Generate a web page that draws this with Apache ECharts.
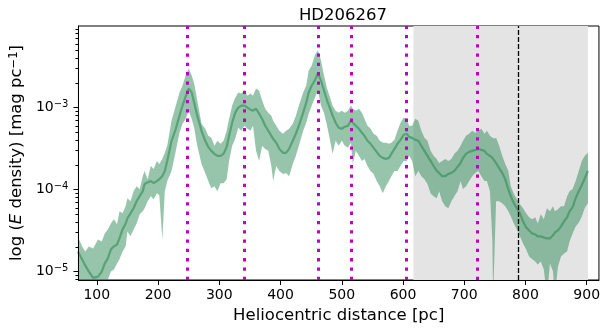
<!DOCTYPE html>
<html>
<head>
<meta charset="utf-8">
<script src="https://cdn.jsdelivr.net/npm/echarts@6/dist/echarts.min.js"></script>
<style>html,body{margin:0;padding:0;background:#fff}#c{width:603px;height:332px}</style>
</head>
<body>
<div id="c"></div>
<script>
const titleText = 'HD206267';
const xAxisTitle = 'Heliocentric distance [pc]';
const distances = [
  69, 76, 81, 87, 94, 102, 108, 113, 118, 123,
  128, 133, 137, 142, 147, 150, 155, 160, 165, 170,
  175, 178, 183, 188, 193, 198, 202, 207, 211, 215,
  222, 229, 235, 240, 245, 250, 255, 259, 264, 271,
  277, 282, 287, 292, 297, 302, 307, 312, 316, 321,
  326, 331, 336, 341, 346, 351, 355, 360, 365, 370,
  375, 380, 385, 388, 393, 398, 404, 409, 414, 420,
  425, 430, 437, 442, 446, 451, 456, 461, 466, 471,
  476, 481, 485, 490, 495, 500, 505, 510, 515, 518,
  523, 528, 533, 537, 542, 547, 552, 557, 562, 567,
  572, 577, 581, 586, 591, 596, 601, 606, 610, 615,
  620, 625, 630, 635, 640, 645, 650, 655, 659, 664,
  669, 674, 679, 684, 689, 694, 698, 703, 708, 713,
  718, 723, 728, 733, 737, 742, 746, 747, 749, 752,
  757, 762, 767, 772, 776, 781, 786, 791, 796, 801,
  806, 811, 816, 820, 825, 830, 835, 840, 845, 848,
  853, 858, 863, 868, 872, 877, 882, 887, 892, 897,
  902
];
const upperVals = [
  2.69e-5, 2.03e-5, 1.76e-5, 2.03e-5, 1.92e-5, 2.47e-5, 2.33e-5, 2.92e-5, 3.27e-5, 3.87e-5,
  4.35e-5, 3.77e-5, 5.44e-5, 5.14e-5, 6.27e-5, 7.86e-5, 7.22e-5, 9.58e-5, 1.10e-4, 1.01e-4,
  1.46e-4, 1.69e-4, 1.34e-4, 1.94e-4, 1.78e-4, 2.24e-4, 2.06e-4, 2.37e-4, 2.81e-4, 3.42e-4,
  6.93e-4, 1.06e-3, 1.53e-3, 1.86e-3, 2.47e-3, 3.0e-3, 2.47e-3, 1.97e-3, 1.22e-3, 6.37e-4,
  5.52e-4, 4.53e-4, 4.28e-4, 3.42e-4, 3.94e-4, 3.62e-4, 3.94e-4, 5.22e-4, 7.34e-4, 1.06e-3,
  1.32e-3, 1.53e-3, 1.49e-3, 1.62e-3, 1.40e-3, 1.49e-3, 1.40e-3, 1.71e-3, 1.62e-3, 1.22e-3,
  9.7e-4, 8.68e-4, 7.98e-4, 6.93e-4, 6.01e-4, 5.22e-4, 4.80e-4, 5.22e-4, 5.52e-4, 6.37e-4,
  7.98e-4, 1.06e-3, 1.53e-3, 1.86e-3, 2.84e-3, 3.27e-3, 4.34e-3, 5.0e-3, 3.77e-3, 2.47e-3,
  1.71e-3, 1.32e-3, 1.06e-3, 9.19e-4, 8.68e-4, 9.19e-4, 8.68e-4, 9.19e-4, 1.06e-3, 9.7e-4,
  9.19e-4, 9.7e-4, 8.68e-4, 7.34e-4, 6.01e-4, 5.52e-4, 4.80e-4, 4.53e-4, 3.94e-4, 3.72e-4,
  3.72e-4, 3.62e-4, 3.72e-4, 4.05e-4, 5.22e-4, 6.55e-4, 7.55e-4, 7.34e-4, 6.01e-4, 6.01e-4,
  7.34e-4, 6.93e-4, 5.22e-4, 4.28e-4, 3.94e-4, 2.97e-4, 2.58e-4, 2.37e-4, 2.11e-4, 2.24e-4,
  2.37e-4, 2.24e-4, 2.37e-4, 2.73e-4, 2.97e-4, 3.42e-4, 3.94e-4, 4.53e-4, 4.80e-4, 5.22e-4,
  4.93e-4, 5.22e-4, 5.52e-4, 4.80e-4, 5.22e-4, 4.53e-4, 4.28e-4, 4.28e-4, 4.17e-4, 4.28e-4,
  3.42e-4, 2.58e-4, 2.06e-4, 1.69e-4, 1.10e-4, 8.85e-5, 7.65e-5, 6.65e-5, 5.93e-5, 5.14e-5,
  4.60e-5, 4.35e-5, 4.60e-5, 3.87e-5, 5.0e-5, 4.35e-5, 5.93e-5, 5.44e-5, 6.27e-5, 5.44e-5,
  5.76e-5, 6.27e-5, 6.27e-5, 8.32e-5, 9.58e-5, 1.02e-4, 1.27e-4, 1.69e-4, 2.24e-4, 2.58e-4,
  2.81e-4
];
const medianVals = [
  1.76e-5, 1.41e-5, 1.19e-5, 1.00e-5, 8.4e-6, 8.7e-6, 1.0e-5, 1.26e-5, 1.45e-5, 1.87e-5,
  2.03e-5, 2.14e-5, 2.54e-5, 3.27e-5, 3.87e-5, 4.47e-5, 5.14e-5, 5.93e-5, 7.22e-5, 8.32e-5,
  9.58e-5, 1.17e-4, 1.23e-4, 1.27e-4, 1.20e-4, 1.27e-4, 1.34e-4, 1.46e-4, 1.69e-4, 2.24e-4,
  3.94e-4, 5.52e-4, 7.98e-4, 1.06e-3, 1.36e-3, 1.71e-3, 1.53e-3, 1.15e-3, 7.98e-4, 5.22e-4,
  3.94e-4, 3.32e-4, 2.97e-4, 2.73e-4, 2.58e-4, 2.58e-4, 2.73e-4, 3.32e-4, 4.53e-4, 6.55e-4,
  8.68e-4, 1.0e-3, 1.06e-3, 1.06e-3, 1.0e-3, 9.45e-4, 9.19e-4, 9.7e-4, 8.45e-4, 7.27e-4,
  6.01e-4, 5.22e-4, 4.53e-4, 4.17e-4, 3.72e-4, 3.14e-4, 2.81e-4, 2.81e-4, 3.14e-4, 3.94e-4,
  4.80e-4, 6.01e-4, 8.68e-4, 1.15e-3, 1.53e-3, 1.86e-3, 2.14e-3, 2.61e-3, 2.14e-3, 1.62e-3,
  1.22e-3, 9.7e-4, 7.98e-4, 6.55e-4, 5.68e-4, 5.52e-4, 5.84e-4, 6.01e-4, 6.93e-4, 6.55e-4,
  6.01e-4, 5.52e-4, 4.93e-4, 4.53e-4, 3.94e-4, 3.62e-4, 3.23e-4, 2.89e-4, 2.58e-4, 2.44e-4,
  2.37e-4, 2.44e-4, 2.73e-4, 3.14e-4, 3.62e-4, 4.05e-4, 4.66e-4, 4.80e-4, 4.40e-4, 4.28e-4,
  4.05e-4, 3.94e-4, 3.42e-4, 2.97e-4, 2.58e-4, 2.24e-4, 1.94e-4, 1.69e-4, 1.60e-4, 1.46e-4,
  1.46e-4, 1.55e-4, 1.60e-4, 1.69e-4, 1.89e-4, 2.11e-4, 2.44e-4, 2.73e-4, 2.89e-4, 2.97e-4,
  3.05e-4, 3.14e-4, 3.05e-4, 2.97e-4, 2.73e-4, 2.58e-4, 2.44e-4, 2.37e-4, 2.31e-4, 2.11e-4,
  1.83e-4, 1.60e-4, 1.34e-4, 1.01e-4, 8.32e-5, 6.82e-5, 5.93e-5, 5.14e-5, 4.10e-5, 3.46e-5,
  3.18e-5, 2.92e-5, 2.84e-5, 2.69e-5, 2.69e-5, 2.61e-5, 2.54e-5, 2.54e-5, 2.77e-5, 3.0e-5,
  3.18e-5, 3.56e-5, 4.10e-5, 4.60e-5, 5.44e-5, 6.1e-5, 7.86e-5, 9.58e-5, 1.13e-4, 1.38e-4,
  1.69e-4
];
const lowerVals = [
  7.5e-6, 7.0e-6, 7.0e-6, 7.0e-6, 6.5e-6, 6.5e-6, 7.0e-6, 7.2e-6, 8.0e-6, 1.0e-5,
  1.06e-5, 1.26e-5, 1.41e-5, 1.76e-5, 2.03e-5, 3.09e-5, 2.69e-5, 3.27e-5, 3.87e-5, 5.0e-5,
  5.44e-5, 5.93e-5, 7.22e-5, 8.32e-5, 7.65e-5, 9.05e-5, 8.6e-5, 2.47e-5, 9.58e-5, 1.27e-4,
  1.69e-4, 2.97e-4, 4.93e-4, 6.37e-4, 7.27e-4, 9.19e-4, 7.27e-4, 5.68e-4, 3.42e-4, 2.06e-4,
  1.60e-4, 1.27e-4, 1.04e-4, 1.10e-4, 9.58e-5, 1.20e-4, 1.20e-4, 1.34e-4, 2.24e-4, 3.42e-4,
  4.17e-4, 5.68e-4, 5.22e-4, 6.01e-4, 5.52e-4, 5.22e-4, 6.01e-4, 2.97e-4, 2.24e-4, 3.42e-4,
  3.14e-4, 2.97e-4, 1.94e-4, 1.27e-4, 1.94e-4, 1.69e-4, 1.55e-4, 1.60e-4, 1.46e-4, 2.06e-4,
  2.58e-4, 3.42e-4, 5.22e-4, 6.55e-4, 8.45e-4, 1.06e-3, 1.32e-3, 1.62e-3, 1.06e-3, 8.68e-4,
  6.01e-4, 3.94e-4, 2.73e-4, 3.94e-4, 3.42e-4, 3.94e-4, 3.42e-4, 3.23e-4, 3.72e-4, 2.06e-4,
  2.97e-4, 2.58e-4, 2.24e-4, 2.37e-4, 1.94e-4, 1.69e-4, 1.55e-4, 1.27e-4, 1.10e-4, 9.05e-5,
  1.10e-4, 1.27e-4, 1.46e-4, 1.69e-4, 1.69e-4, 1.94e-4, 2.24e-4, 2.24e-4, 2.58e-4, 2.24e-4,
  1.46e-4, 1.69e-4, 1.46e-4, 1.34e-4, 1.17e-4, 9.05e-5, 8.32e-5, 7.86e-5, 9.58e-5, 7.22e-5,
  6.27e-5, 5.93e-5, 7.22e-5, 8.32e-5, 9.58e-5, 1.27e-4, 1.02e-4, 1.10e-4, 1.27e-4, 1.46e-4,
  1.60e-4, 1.69e-4, 1.46e-4, 1.27e-4, 1.27e-4, 9.58e-5, 2.33e-5, 5.0e-6, 1.33e-5, 7.22e-5,
  7.22e-5, 6.82e-5, 6.27e-5, 5.44e-5, 4.73e-5, 3.87e-5, 3.27e-5, 2.69e-5, 2.20e-5, 1.87e-5,
  1.53e-5, 1.41e-5, 1.33e-5, 1.22e-5, 1.33e-5, 1.06e-5, 5.0e-6, 1.26e-5, 1.0e-5, 5.0e-6,
  1.15e-5, 1.53e-5, 1.66e-5, 1.76e-5, 2.33e-5, 2.92e-5, 3.56e-5, 3.95e-5, 4.7e-5, 6.0e-5,
  6.8e-5
];
const xTickValues = [100, 200, 300, 400, 500, 600, 700, 800, 900];
const yTickValues = [1e-5, 1e-4, 1e-3];
const yMinorTicks = [8e-6, 9e-6,
  2e-5, 3e-5, 4e-5, 5e-5, 6e-5, 7e-5, 8e-5, 9e-5,
  2e-4, 3e-4, 4e-4, 5e-4, 6e-4, 7e-4, 8e-4, 9e-4,
  2e-3, 3e-3, 4e-3, 5e-3, 6e-3, 7e-3, 8e-3, 9e-3];
const magentaLines = [247, 340, 462, 516, 606, 722];
const dashedLine = 789;
const shadeRange = [617, 902];

const FONT = 'DejaVu Sans';
const X_MIN = 70, X_MAX = 920, Y_MIN = 7.9e-6, Y_MAX = 9.9e-3;

const chart = echarts.init(document.getElementById('c'), null, {renderer: 'canvas'});
const medianData = distances.map((d, i) => [d, medianVals[i]]);

const supRich = {
  b: {fontSize: 14, fontFamily: FONT, color: '#000', lineHeight: 16},
  s: {fontSize: 10, fontFamily: FONT, color: '#000', verticalAlign: 'top', lineHeight: 4}
};

const option = {
  animation: false,
  backgroundColor: '#fff',
  title: {
    text: titleText, left: 338, top: 2, textAlign: 'center',
    textStyle: {fontFamily: FONT, fontSize: 16.5, fontWeight: 'normal', color: '#000'}
  },
  grid: {left: 76, right: 3, top: 26, bottom: 52, show: true, borderColor: '#000', borderWidth: 1, backgroundColor: 'transparent'},
  xAxis: {
    type: 'value', min: X_MIN, max: X_MAX, z: 10,
    name: xAxisTitle, nameLocation: 'middle', nameGap: 26,
    nameTextStyle: {fontFamily: FONT, fontSize: 16.5, color: '#000'},
    axisLine: {show: true, onZero: false, lineStyle: {color: '#000', width: 1}},
    axisTick: {show: true, length: 5, lineStyle: {color: '#000', width: 1}, customValues: xTickValues},
    axisLabel: {fontFamily: FONT, fontSize: 14, color: '#000', margin: 8, customValues: xTickValues},
    splitLine: {show: false}
  },
  yAxis: [{
    type: 'log', logBase: 10, min: Y_MIN, max: Y_MAX, z: 10,
    name: 'log ({i|E} density) [mag pc{s|−1}]', nameLocation: 'middle', nameGap: 50,
    nameTextStyle: {fontFamily: FONT, fontSize: 16.5, color: '#000',
      rich: {
        i: {fontFamily: FONT, fontSize: 16.5, fontStyle: 'italic', color: '#000'},
        s: {fontFamily: FONT, fontSize: 11.5, color: '#000', verticalAlign: 'top', lineHeight: 6}
      }},
    axisLine: {show: true, onZero: false, lineStyle: {color: '#000', width: 1}},
    axisTick: {show: true, length: 5, lineStyle: {color: '#000', width: 1}, customValues: yTickValues},
    axisLabel: {
      margin: 10, customValues: yTickValues,
      formatter: v => { const e = Math.round(Math.log10(v)); return '{b|10}{s|−' + Math.abs(e) + '}'; },
      rich: supRich
    },
    splitLine: {show: false}
  }, {
    type: 'log', logBase: 10, min: Y_MIN, max: Y_MAX, position: 'left', offset: 0, z: 10,
    axisLine: {show: false},
    axisTick: {show: true, length: 3, lineStyle: {color: '#000', width: 1}, customValues: yMinorTicks},
    axisLabel: {show: false},
    splitLine: {show: false}
  }],
  series: [
    {
      type: 'line', data: [], z: 1, silent: true,
      markArea: {
        silent: true,
        itemStyle: {color: '#e4e4e4'},
        data: [[{xAxis: shadeRange[0]}, {xAxis: shadeRange[1]}]]
      }
    },
    {
      type: 'custom', z: 2, silent: true, clip: true,
      data: [[distances[0], medianVals[0]]],
      renderItem: (params, api) => {
        const pts = [];
        for (let i = 0; i < distances.length; i++) pts.push(api.coord([distances[i], upperVals[i]]));
        for (let i = distances.length - 1; i >= 0; i--) pts.push(api.coord([distances[i], lowerVals[i]]));
        const cs = params.coordSys;
        return {
          type: 'polygon',
          shape: {points: pts},
          style: {fill: 'rgba(46,139,87,0.5)', stroke: null},
          clipPath: {type: 'rect', shape: {x: cs.x, y: cs.y, width: cs.width, height: cs.height}}
        };
      }
    },
    {
      type: 'line', z: 3, data: medianData, showSymbol: false, silent: true,
      lineStyle: {color: 'rgba(46,139,87,0.6)', width: 2.2}
    },
    {
      type: 'line', data: [], z: 4, silent: true,
      markLine: {
        silent: true, symbol: ['none', 'none'], label: {show: false},
        data: magentaLines.map(x => ({xAxis: x, lineStyle: {color: '#bf00bf', width: 3, type: [3.3, 6], cap: 'butt'}}))
          .concat([{xAxis: dashedLine, lineStyle: {color: '#000', width: 1.3, type: [5, 2]}}])
      }
    }
  ]
};
chart.setOption(option);
</script>
</body>
</html>
